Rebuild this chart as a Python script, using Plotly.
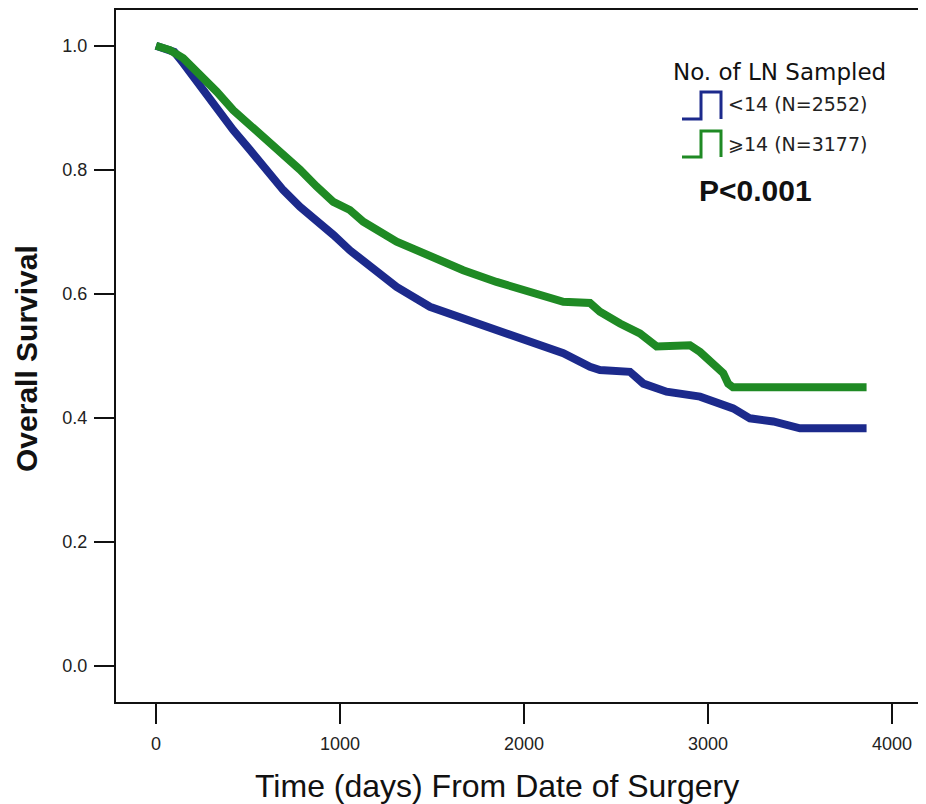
import plotly.graph_objects as go

# ---- data ----
days_lt14 = [0, 100, 148, 239, 330, 420, 511, 602, 692, 783, 873, 964, 1054, 1127, 1308, 1489,
             1670, 1851, 2033, 2214, 2359, 2413, 2576, 2649, 2775, 2957, 3137, 3228, 3355, 3500, 3862]
surv_lt14 = [1.0, 0.990, 0.972, 0.934, 0.896, 0.864, 0.832, 0.800, 0.767, 0.740, 0.719, 0.695, 0.670,
             0.654, 0.611, 0.579, 0.560, 0.539, 0.523, 0.504, 0.482, 0.477, 0.474, 0.455, 0.442, 0.434,
             0.415, 0.399, 0.394, 0.383, 0.383]

days_ge14 = [0, 76, 148, 239, 330, 420, 511, 602, 692, 783, 873, 964, 1054, 1127, 1308, 1489, 1670,
             1851, 2033, 2214, 2359, 2413, 2522, 2630, 2721, 2902, 2957, 3029, 3083, 3110, 3136, 3862]
surv_ge14 = [1.0, 0.993, 0.980, 0.955, 0.926, 0.896, 0.872, 0.851, 0.826, 0.800, 0.773, 0.748, 0.735,
             0.716, 0.684, 0.660, 0.638, 0.619, 0.603, 0.587, 0.585, 0.571, 0.552, 0.536, 0.515, 0.517,
             0.506, 0.488, 0.472, 0.455, 0.449, 0.449]

x_ticks = [0, 1000, 2000, 3000, 4000]
y_ticks = [0.0, 0.2, 0.4, 0.6, 0.8, 1.0]
y_tick_labels = ["0.0", "0.2", "0.4", "0.6", "0.8", "1.0"]

legend_title = "No. of LN Sampled"
label_lt14 = "<14 (N=2552)"
label_ge14 = "⩾14 (N=3177)"
p_text = "P<0.001"

BLUE = "#1c2a8c"
GREEN = "#1f8a24"

# page body margin offset (browser default 8px)
OFF = 8
W, H = 926 - OFF, 804 - OFF
L, R, T, B = 116 - OFF, 0, 10 - OFF, 102
PW, PH = W - L - R, H - T - B


def px(x):
    # reference-pixel x -> paper coordinate
    return (x - OFF - L) / PW


def py(y):
    # reference-pixel y -> paper coordinate
    return (H - B - (y - OFF)) / PH


fig = go.Figure()
fig.add_trace(go.Scatter(x=days_lt14, y=surv_lt14, mode="lines",
                         line=dict(color=BLUE, width=8), showlegend=False))
fig.add_trace(go.Scatter(x=days_ge14, y=surv_ge14, mode="lines",
                         line=dict(color=GREEN, width=8), showlegend=False))

font = "Liberation Sans, Arial, sans-serif"
font2 = "DejaVu Sans, sans-serif"

fig.update_layout(
    width=W, height=H,
    margin=dict(l=L, r=R, t=T, b=B, pad=0),
    paper_bgcolor="white", plot_bgcolor="white",
    showlegend=False,
    xaxis=dict(range=[-217, 4185], tickvals=x_ticks, ticks="outside", ticklen=20, tickwidth=2,
               tickcolor="#111", showline=True, linecolor="#111", linewidth=2, mirror=True,
               showgrid=False, zeroline=False,
               tickfont=dict(family=font, size=18, color="#222"), ticklabelstandoff=4),
    yaxis=dict(range=[-0.0585, 1.0576], tickvals=y_ticks, ticktext=y_tick_labels, ticks="outside",
               ticklen=20, tickwidth=2, tickcolor="#111", showline=True, linecolor="#111",
               linewidth=2, showgrid=False, zeroline=False, ticklabelstandoff=3,
               tickfont=dict(family=font, size=18, color="#222")),
)

ann = [
    dict(text="Time (days) From Date of Surgery", x=px(497), y=py(786), size=32, bold=False, f=font),
    dict(text="Overall Survival", x=px(26), y=py(359), size=30, bold=True, rot=-90, f=font),
    dict(text=legend_title, x=px(779), y=py(72), size=23, bold=False, f=font2),
    dict(text=p_text, x=px(755), y=py(190), size=30, bold=True, f=font),
]
for a in ann:
    txt = "<b>" + a["text"] + "</b>" if a["bold"] else a["text"]
    fig.add_annotation(text=txt, x=a["x"], y=a["y"], xref="paper", yref="paper",
                       showarrow=False, textangle=a.get("rot", 0), xanchor="center",
                       yanchor="middle", borderpad=0,
                       font=dict(family=a["f"], size=a["size"], color="#111"))

for lab, yc in [(label_lt14, 104), (label_ge14, 144)]:
    fig.add_annotation(text=lab, x=px(726), y=py(yc), xref="paper", yref="paper",
                       showarrow=False, xanchor="left", yanchor="middle",
                       font=dict(family=font2, size=19, color="#222"))


def step_icon(y_bot, y_top, color):
    p = (f"M {px(682)},{py(y_bot)} L {px(701)},{py(y_bot)} L {px(701)},{py(y_top)} "
         f"L {px(721)},{py(y_top)} L {px(721)},{py(y_bot)}")
    fig.add_shape(type="path", path=p, xref="paper", yref="paper",
                  line=dict(color=color, width=3))


step_icon(119, 92, BLUE)
step_icon(157, 131, GREEN)

fig.write_html("out.html")
